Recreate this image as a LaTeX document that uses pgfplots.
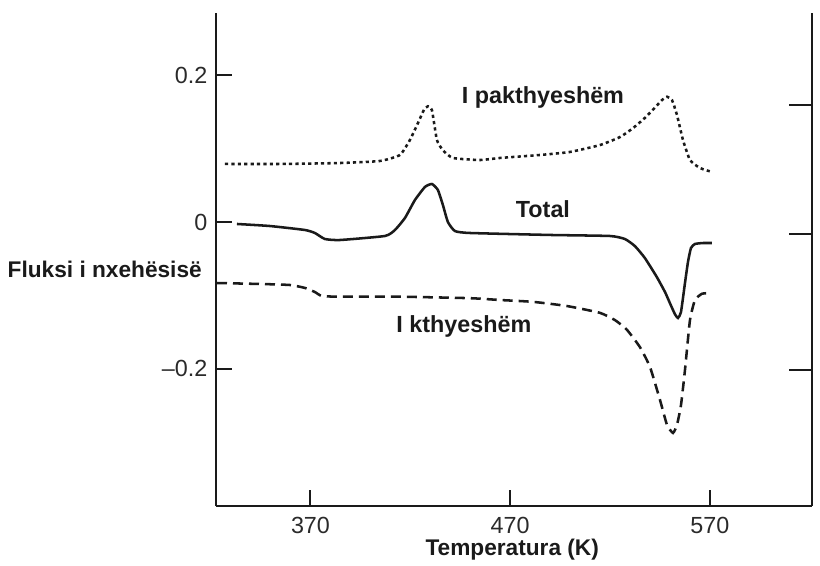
\documentclass[border=0pt]{standalone}
\usepackage{pgfplots}
\pgfplotsset{compat=1.18}
\usepackage{fontspec}
\setmainfont{Liberation Sans}
\definecolor{ink}{HTML}{1A1A1A}
\definecolor{tick}{HTML}{2A2A2A}

\begin{document}
\begin{tikzpicture}
\useasboundingbox (0,0) rectangle (615pt,423.75pt);
\begin{axis}[
  at={(162pt,44.25pt)}, anchor=south west,
  scale only axis, width=447pt, height=369.75pt,
  xmin=322.7, xmax=621.1, ymin=-0.3877, ymax=0.2853,
  axis x line*=bottom, axis y line*=left,
  axis line style={line width=1.7pt, ink},
  tick align=inside,
  tick style={line width=1.5pt, ink},
  major tick length=12pt,
  xtick={370,470,570}, xticklabels={370,470,570},
  ytick={-0.2,0,0.2}, yticklabels={\textendash0.2,0,0.2},
  ticklabel style={font=\fontsize{17.5}{21}\selectfont, text=tick},
  xticklabel style={yshift=-5pt},
  yticklabel style={xshift=-3pt},
  xlabel={Temperatura (K)},
  xlabel style={font=\bfseries\fontsize{17}{20}\selectfont, text=ink,
    at={(axis description cs:0.497,-0.088)}, anchor=center},
  clip=false,
]
% I pakthyeshem (dotted)
\addplot[ink, line width=1.9pt, dash pattern=on 2.4pt off 2.4pt, smooth, tension=0.3] coordinates {
 (327.2,0.0792) (354.7,0.0792) (384.8,0.0805) (404.8,0.0833) (414.8,0.0915)
 (419.8,0.112) (423.8,0.135) (426.8,0.153) (428.8,0.158) (430.8,0.153)
 (433.3,0.112) (436.3,0.098) (441.3,0.0874) (454.8,0.0846) (464.9,0.0874)
 (484.9,0.0915) (499.9,0.0956) (514.9,0.105) (525.0,0.116) (531.4,0.128)
 (537.4,0.142) (542.4,0.156) (546.0,0.1665) (548.5,0.171) (551.0,0.1665)
 (553.5,0.146) (556.5,0.112) (560.0,0.0846) (565.0,0.0737) (571.0,0.0683)
};
% Total (solid)
\addplot[ink, line width=1.9pt, smooth, tension=0.3] coordinates {
 (333.2,-0.0027) (349.7,-0.0055) (367.2,-0.0109) (372.2,-0.015) (377.2,-0.0232)
 (384.7,-0.0246) (407.3,-0.0191) (412.3,-0.0109) (417.3,0.0055) (422.3,0.030)
 (427.3,0.0478) (430.8,0.0519) (433.8,0.0437) (436.3,0.0232) (438.8,0.0)
 (442.3,-0.0123) (449.8,-0.015) (489.9,-0.0177) (519.9,-0.0191) (527.4,-0.0232)
 (532.4,-0.0328) (537.4,-0.0491) (543.4,-0.0751) (547.5,-0.0956) (550.0,-0.111)
 (552.5,-0.126) (554.0,-0.131) (555.5,-0.123) (557.5,-0.0833) (559.0,-0.0546)
 (560.5,-0.0355) (562.5,-0.030) (566.5,-0.0287) (571.0,-0.0287)
};
% I kthyeshem (dashed)
\addplot[ink, line width=1.9pt, dash pattern=on 7.5pt off 4.5pt, smooth, tension=0.3] coordinates {
 (323.2,-0.0833) (344.7,-0.0846) (359.7,-0.086) (367.2,-0.090) (372.2,-0.0956)
 (375.7,-0.101) (384.7,-0.102) (414.8,-0.102) (449.8,-0.104) (464.9,-0.1065)
 (481.4,-0.109) (498.4,-0.1147) (514.9,-0.124) (522.5,-0.134) (528.4,-0.147)
 (535.0,-0.171) (540.0,-0.198) (545.0,-0.243) (548.5,-0.277) (551.5,-0.288)
 (553.5,-0.277) (555.5,-0.250) (557.5,-0.202) (560.0,-0.134) (562.5,-0.1065)
 (566.0,-0.098) (570.0,-0.097)
};
\node[font=\bfseries\fontsize{17.5}{21}\selectfont, text=ink] at (axis cs:486.4,0.1706) {I pakthyeshëm};
\node[font=\bfseries\fontsize{17.5}{21}\selectfont, text=ink] at (axis cs:486.4,0.0177) {Total};
\node[font=\bfseries\fontsize{17.5}{21}\selectfont, text=ink] at (axis cs:446.8,-0.142) {I kthyeshëm};
\node[font=\bfseries\fontsize{17}{20}\selectfont, text=ink, anchor=east] at (axis description cs:-0.016,0.479) {Fluksi i nxehësisë};
\end{axis}
% right-hand frame line with its own inward ticks
\begin{axis}[
  at={(162pt,44.25pt)}, anchor=south west,
  scale only axis, width=447pt, height=369.75pt,
  xmin=322.7, xmax=621.1, ymin=-0.3877, ymax=0.2853,
  hide x axis, axis y line*=right,
  axis line style={line width=1.4pt, ink},
  tick align=inside,
  tick style={line width=1.5pt, ink},
  major tick length=17pt,
  ytick={-0.202,-0.0164,0.160}, yticklabels={},
]
\end{axis}
\end{tikzpicture}
\end{document}
